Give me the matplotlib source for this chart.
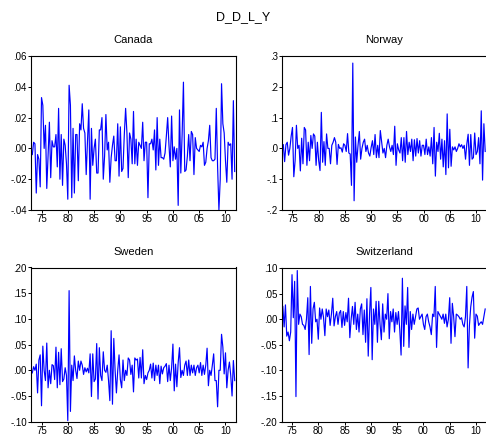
import numpy as np
import matplotlib
matplotlib.use("Agg")
import matplotlib.pyplot as plt
from matplotlib.ticker import FixedLocator, FuncFormatter

plt.rcParams['font.family'] = ['Liberation Sans', 'DejaVu Sans']

# second differences of log output, quarterly, 1973Q2 - 2011Q4 (one row per year)
canada = [
    -0.004, 0.004, 0.003,
    -0.029, -0.004, -0.007, -0.025,
    0.033, 0.028, 0.000, 0.015,
    -0.026, -0.004, 0.017, -0.019,
    0.005, 0.001, 0.001, 0.009,
    -0.012, 0.026, -0.020, 0.009,
    -0.024, 0.006, 0.002, -0.010,
    -0.033, 0.041, 0.028, -0.032,
    0.013, -0.029, 0.009, 0.009,
    -0.021, 0.016, 0.012, 0.029,
    0.013, 0.010, -0.017, 0.005,
    0.025, -0.033, 0.013, -0.011,
    0.000, 0.006, -0.016, -0.016,
    0.012, 0.012, 0.020, -0.020,
    -0.005, 0.022, -0.001, 0.004,
    -0.022, -0.006, 0.002, 0.008,
    -0.008, -0.008, 0.016, -0.018,
    0.014, -0.015, -0.013, 0.009,
    0.026, 0.010, -0.019, 0.010,
    0.006, -0.010, 0.024, -0.010,
    0.006, -0.011, 0.004, 0.002,
    0.000, 0.017, -0.008, 0.004,
    0.004, -0.032, 0.003, 0.003,
    0.006, -0.001, 0.012, -0.014,
    0.020, -0.011, 0.006, -0.006,
    -0.006, -0.007, -0.003, 0.008,
    0.020, 0.002, -0.012, 0.021,
    -0.008, 0.001, -0.007, 0.000,
    -0.037, 0.025, -0.016, 0.009,
    0.043, -0.015, -0.014, -0.005,
    0.009, -0.008, 0.011, 0.009,
    -0.017, 0.007, 0.000, -0.001,
    -0.002, 0.002, 0.001, 0.004,
    -0.011, -0.009, 0.000, 0.005,
    0.015, -0.006, -0.008, -0.008,
    -0.007, 0.026, -0.012, -0.040,
    -0.020, 0.042, 0.016, 0.010,
    -0.008, -0.022, 0.004, 0.002,
    0.003, -0.020, 0.031, -0.015,
]

norway = [
    0.012, -0.043, 0.012,
    0.020, -0.022, 0.000, 0.040,
    0.068, -0.092, -0.040, 0.075,
    0.000, 0.010, -0.073, 0.033,
    -0.050, 0.068, 0.060, -0.055,
    0.020, -0.040, 0.042, 0.000,
    0.047, 0.040, -0.055, 0.020,
    -0.040, -0.072, 0.117, -0.045,
    0.022, -0.055, 0.047, 0.000,
    0.000, -0.050, 0.010, 0.020,
    0.035, 0.020, -0.052, 0.013,
    0.000, 0.002, -0.012, 0.015,
    0.010, -0.010, 0.048, -0.015,
    -0.018, -0.120, 0.277, -0.170,
    0.037, -0.045, 0.010, 0.055,
    -0.035, 0.000, 0.020, 0.030,
    -0.010, 0.010, -0.015, -0.025,
    0.003, 0.025, -0.020, 0.045,
    -0.030, 0.010, -0.030, 0.058,
    0.020, -0.015, 0.000, -0.030,
    0.010, 0.030, 0.005, -0.010,
    0.010, -0.020, 0.072, -0.055,
    0.015, -0.005, -0.015, 0.035,
    -0.040, 0.035, -0.045, 0.055,
    -0.020, 0.020, -0.010, 0.030,
    -0.040, 0.028, -0.025, 0.032,
    -0.015, 0.025, -0.025, 0.010,
    0.010, -0.020, 0.030, -0.020,
    0.005, -0.025, 0.035, -0.050,
    0.068, -0.090, 0.020, -0.010,
    0.049, -0.035, 0.030, -0.060,
    0.025, -0.085, 0.112, -0.063,
    0.062, -0.058, 0.005, -0.005,
    0.005, -0.010, 0.000, 0.015,
    0.005, 0.012, 0.000, 0.010,
    -0.035, 0.015, 0.046, -0.055,
    0.045, -0.035, -0.030, 0.050,
    -0.020, -0.010, 0.035, -0.050,
    0.122, -0.103, 0.080, -0.010,
]

sweden = [
    -0.005, 0.007, 0.000,
    0.012, -0.044, 0.020, 0.030,
    -0.069, 0.047, 0.000, -0.020,
    0.053, -0.034, 0.000, -0.026,
    0.011, 0.009, -0.018, 0.045,
    -0.034, 0.035, -0.028, 0.042,
    -0.022, -0.017, 0.005, -0.010,
    -0.098, 0.155, -0.080, 0.010,
    -0.020, 0.028, 0.000, -0.016,
    0.018, 0.000, 0.018, 0.010,
    -0.008, 0.005, -0.003, 0.004,
    -0.005, 0.032, -0.051, 0.032,
    -0.022, -0.017, 0.052, -0.056,
    0.044, -0.010, -0.020, 0.036,
    0.000, -0.004, 0.010, -0.020,
    -0.059, 0.077, -0.066, 0.062,
    0.000, -0.044, 0.000, 0.030,
    -0.018, -0.034, 0.020, -0.020,
    0.000, -0.010, 0.024, 0.020,
    -0.008, 0.010, -0.042, 0.024,
    0.020, 0.022, -0.015, 0.025,
    -0.015, 0.040, -0.026, -0.010,
    -0.018, -0.005, 0.000, 0.012,
    -0.015, 0.014, -0.020, 0.010,
    -0.010, 0.010, -0.026, 0.008,
    -0.007, 0.005, 0.008, 0.013,
    -0.022, 0.010, -0.020, 0.005,
    0.051, -0.040, 0.012, -0.032,
    0.015, 0.044, -0.014, 0.000,
    -0.010, 0.010, 0.018, -0.010,
    0.020, -0.010, 0.010, -0.005,
    0.010, -0.010, 0.005, 0.010,
    -0.005, 0.015, -0.010, 0.010,
    -0.008, 0.010, 0.043, -0.030,
    0.000, -0.010, 0.010, 0.032,
    -0.020, -0.020, -0.071, 0.000,
    0.000, 0.070, 0.045, -0.007,
    0.034, -0.034, 0.000, 0.016,
    -0.010, -0.050, 0.019, -0.020,
]

switzerland = [
    0.025, -0.015, 0.028,
    -0.033, -0.025, -0.042, -0.025,
    0.087, 0.003, 0.074, -0.151,
    0.095, -0.010, 0.010, 0.005,
    -0.010, -0.012, -0.020, 0.000,
    0.042, -0.069, 0.064, -0.047,
    0.020, 0.033, -0.005, 0.000,
    -0.039, 0.022, 0.000, 0.020,
    0.003, -0.032, 0.020, 0.005,
    0.018, -0.012, 0.010, 0.041,
    -0.013, 0.005, 0.015, -0.010,
    0.012, 0.017, -0.016, 0.015,
    -0.012, 0.013, -0.005, 0.041,
    -0.036, 0.000, 0.025, -0.010,
    0.033, -0.020, 0.010, -0.025,
    0.020, 0.030, -0.030, 0.018,
    -0.045, 0.040, -0.072, 0.010,
    0.062, -0.079, 0.020, -0.010,
    0.035, -0.045, 0.035, -0.010,
    -0.040, 0.030, -0.025, 0.010,
    0.000, 0.050, -0.038, 0.015,
    -0.005, 0.020, -0.025, 0.013,
    -0.010, 0.015, -0.020, -0.070,
    0.080, -0.053, 0.026, -0.010,
    0.062, -0.055, 0.015, -0.020,
    0.010, -0.010, 0.005, 0.020,
    0.022, 0.000, 0.005, 0.010,
    -0.010, -0.020, 0.005, 0.010,
    -0.005, -0.015, -0.030, 0.010,
    0.005, 0.064, -0.055, 0.015,
    0.010, 0.005, 0.000, 0.010,
    -0.008, 0.010, -0.015, 0.000,
    0.042, -0.047, 0.031, 0.005,
    -0.034, 0.010, 0.008, 0.005,
    0.000, 0.003, -0.010, -0.015,
    0.005, 0.064, -0.095, -0.012,
    0.024, 0.043, 0.054, -0.037,
    0.010, 0.006, -0.012, -0.008,
    -0.005, -0.010, 0.005, 0.020,
]

year_ticks = [1975, 1980, 1985, 1990, 1995, 2000, 2005, 2010]

canada_ticks = [-0.04, -0.02, 0.0, 0.02, 0.04, 0.06]
norway_ticks = [-0.2, -0.1, 0.0, 0.1, 0.2, 0.3]
sweden_ticks = [-0.10, -0.05, 0.0, 0.05, 0.10, 0.15, 0.20]
swiss_ticks = [-0.20, -0.15, -0.10, -0.05, 0.0, 0.05, 0.10]

panels = [
    ("Canada", canada, canada_ticks, 2),
    ("Norway", norway, norway_ticks, 1),
    ("Sweden", sweden, sweden_ticks, 2),
    ("Switzerland", switzerland, swiss_ticks, 2),
]

# pixel boxes: left, top, right, bottom
boxes = [(31, 56, 236, 210), (282, 56, 486.5, 210),
         (31, 267.5, 236, 421.7), (281.5, 268, 486.5, 421.7)]

W, H = 486, 436
fig = plt.figure(figsize=(W / 100, H / 100), dpi=100)


def dec_fmt(nd):
    def f(v, pos):
        s = f"{abs(v):.{nd}f}".lstrip("0")
        return ("-" if v < -1e-12 else "") + s
    return f


for (name, vals, yt, nd), (l, t, r, b) in zip(panels, boxes):
    ax = fig.add_axes([l / W, 1 - b / H, (r - l) / W, (b - t) / H])
    x = 1973.25 + 0.25 * np.arange(len(vals))
    ax.plot(x, vals, color=(0, 0, 1), lw=0.85)
    ax.set_xlim(1973.0, 2012.0)
    ax.set_ylim(yt[0], yt[-1])
    ax.yaxis.set_major_locator(FixedLocator(yt))
    ax.yaxis.set_major_formatter(FuncFormatter(dec_fmt(nd)))
    ax.xaxis.set_major_locator(FixedLocator(year_ticks))
    ax.xaxis.set_major_formatter(FuncFormatter(lambda v, p: f"{int(round(v)) % 100:02d}"))
    ax.tick_params(direction="out", length=2.2, width=0.7, labelsize=7, pad=0.8,
                   colors="black")
    for sp in ax.spines.values():
        sp.set_linewidth(0.8)
        sp.set_color("black")
    fig.text((l + r) / 2 / W, 1 - (t - 16) / H, name, ha="center", va="center", fontsize=8)

fig.text(243 / W, 1 - 17 / H, "D_D_L_Y", ha="center", va="center", fontsize=9)

fig.savefig("out.png", dpi=100)
